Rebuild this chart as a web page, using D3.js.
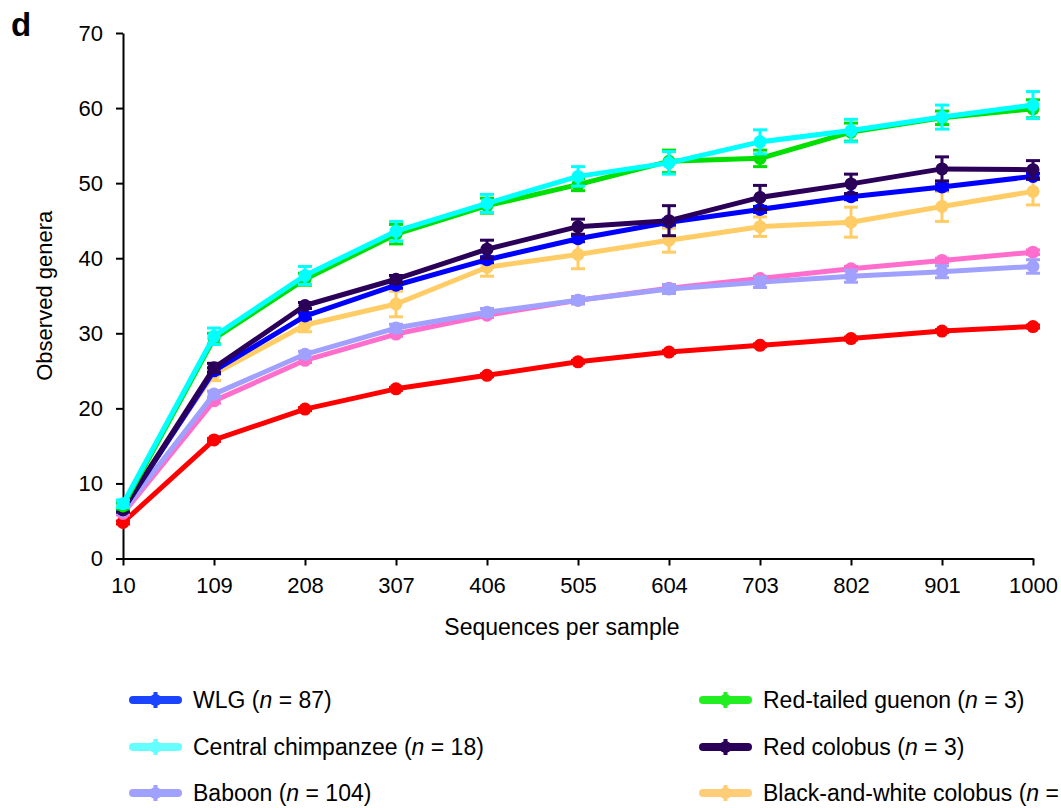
<!DOCTYPE html>
<html lang="en">
<head>
<meta charset="UTF-8">
<title>Rarefaction curves</title>
<script src="https://d3js.org/d3.v7.min.js"></script>
<style>
  body { margin: 0; background: #fff; }
  svg { display: block; font-family: Arial, "Liberation Sans", Helvetica, sans-serif; }
  .axis path, .axis line { stroke: #000; stroke-width: 2px; }
  .axis text { font-size: 22px; fill: #000; }
</style>
</head>
<body>
<svg width="1061" height="808"></svg>
<script>
// sequences per sample (x ticks)
const seqs = [10, 109, 208, 307, 406, 505, 604, 703, 802, 901, 1000];
const yTicks = [0, 10, 20, 30, 40, 50, 60, 70];

// mean observed genera + error per group
const wlg       = [6.5, 25.0, 32.3, 36.4, 39.8, 42.6, 44.8, 46.5, 48.2, 49.5, 50.9];
const wlgErr    = [0.3, 0.4, 0.4, 0.4, 0.4, 0.4, 0.4, 0.4, 0.4, 0.4, 0.4];
const chimp     = [7.3, 29.6, 37.7, 43.6, 47.3, 50.9, 52.7, 55.5, 57.0, 58.8, 60.4];
const chimpErr  = [0.5, 1.1, 1.2, 1.3, 1.2, 1.3, 1.5, 1.6, 1.5, 1.6, 1.8];
const baboon    = [6.3, 21.9, 27.2, 30.7, 32.8, 34.4, 35.9, 36.8, 37.6, 38.2, 38.9];
const baboonErr = [0.3, 0.4, 0.4, 0.5, 0.5, 0.5, 0.6, 0.7, 0.8, 0.8, 0.9];
const guenon    = [7.0, 29.3, 37.2, 43.2, 47.0, 49.8, 52.9, 53.3, 56.8, 58.7, 59.9];
const guenonErr = [0.4, 0.7, 0.8, 1.3, 1.0, 0.8, 1.5, 1.1, 1.2, 0.9, 1.2];
const redCol    = [6.5, 25.4, 33.7, 37.2, 41.2, 44.2, 45.0, 48.1, 49.9, 51.9, 51.8];
const redColErr = [0.3, 0.6, 0.4, 0.5, 1.2, 1.0, 2.0, 1.6, 1.3, 1.6, 1.2];
const bwCol     = [7.0, 24.6, 31.1, 33.9, 38.8, 40.5, 42.4, 44.2, 44.8, 46.9, 48.9];
const bwColErr  = [0.4, 0.9, 0.9, 1.7, 1.2, 1.9, 1.6, 1.3, 2.0, 2.0, 1.8];
const pink      = [6.0, 21.0, 26.4, 29.9, 32.4, 34.4, 36.0, 37.3, 38.6, 39.7, 40.8];
const pinkErr   = [0.2, 0.3, 0.3, 0.3, 0.3, 0.3, 0.3, 0.3, 0.3, 0.3, 0.3];
const red       = [4.8, 15.8, 19.9, 22.6, 24.4, 26.2, 27.5, 28.4, 29.3, 30.3, 30.9];
const redErr    = [0.2, 0.2, 0.2, 0.2, 0.2, 0.2, 0.2, 0.2, 0.2, 0.2, 0.2];

// draw order (bottom first)
const series = [
  { name: "red",   vals: red,    err: redErr,    color: "#ff0000" },
  { name: "pink",  vals: pink,   err: pinkErr,   color: "#ff6ecc" },
  { name: "Baboon", n: "104", vals: baboon, err: baboonErr, color: "#a0a0ff", legend: "#a0a0ff" },
  { name: "Black-and-white colobus", n: "3", vals: bwCol, err: bwColErr, color: "#ffcc66", legend: "#ffcc77" },
  { name: "WLG", n: "87", vals: wlg, err: wlgErr, color: "#0000ff", legend: "#1a44ff" },
  { name: "Red colobus", n: "3", vals: redCol, err: redColErr, color: "#2a0058", legend: "#2a0058" },
  { name: "Red-tailed guenon", n: "3", vals: guenon, err: guenonErr, color: "#00e000", legend: "#22ee22" },
  { name: "Central chimpanzee", n: "18", vals: chimp, err: chimpErr, color: "#00ffff", legend: "#66ffff" }
];

const legendCols = [
  ["WLG", "Central chimpanzee", "Baboon"],
  ["Red-tailed guenon", "Red colobus", "Black-and-white colobus"]
];

const svg = d3.select("svg");

const x = d3.scaleLinear().domain([10, 1000]).range([123, 1033]);
const y = d3.scaleLinear().domain([0, 70]).range([558.5, 33]);

// axes
svg.append("g")
  .attr("class", "axis")
  .attr("transform", "translate(0,558.5)")
  .call(d3.axisBottom(x).tickValues(seqs).tickSize(7).tickSizeOuter(0).tickPadding(12).tickFormat(d3.format("d")));

svg.append("g")
  .attr("class", "axis")
  .attr("transform", "translate(123,0)")
  .call(d3.axisLeft(y).tickValues(yTicks).tickSize(7).tickSizeOuter(0).tickPadding(13));

svg.append("text")
  .attr("x", 562).attr("y", 635)
  .attr("text-anchor", "middle")
  .style("font-size", "23px")
  .text("Sequences per sample");

svg.append("text")
  .attr("transform", "translate(52," + y(35) + ") rotate(-90)")
  .attr("text-anchor", "middle")
  .style("font-size", "22px")
  .text("Observed genera");

svg.append("text")
  .attr("x", 11).attr("y", 36)
  .style("font-size", "33px").style("font-weight", "bold")
  .text("d");

// lines, error bars, dots
const line = d3.line().x((d, i) => x(seqs[i])).y(d => y(d));

series.forEach(s => {
  const g = svg.append("g");
  g.append("path")
    .attr("d", line(s.vals))
    .attr("fill", "none")
    .attr("stroke", s.color)
    .attr("stroke-width", 5)
    .attr("stroke-linejoin", "round");

  const eb = g.selectAll(".eb").data(s.vals).enter().append("g");
  eb.append("line")
    .attr("x1", (d, i) => x(seqs[i])).attr("x2", (d, i) => x(seqs[i]))
    .attr("y1", (d, i) => y(d - s.err[i])).attr("y2", (d, i) => y(d + s.err[i]));
  eb.append("line")
    .attr("x1", (d, i) => x(seqs[i]) - 7).attr("x2", (d, i) => x(seqs[i]) + 7)
    .attr("y1", (d, i) => y(d + s.err[i])).attr("y2", (d, i) => y(d + s.err[i]));
  eb.append("line")
    .attr("x1", (d, i) => x(seqs[i]) - 7).attr("x2", (d, i) => x(seqs[i]) + 7)
    .attr("y1", (d, i) => y(d - s.err[i])).attr("y2", (d, i) => y(d - s.err[i]));
  eb.selectAll("line").attr("stroke", s.color).attr("stroke-width", 3);

  g.selectAll("circle").data(s.vals).enter().append("circle")
    .attr("cx", (d, i) => x(seqs[i]))
    .attr("cy", d => y(d))
    .attr("r", 6.5)
    .attr("fill", s.color);
});

// legend
const colX = [133, 703];
const rowY = [700, 747, 793];
legendCols.forEach((col, ci) => {
  col.forEach((nm, ri) => {
    const s = series.find(d => d.name === nm);
    const g = svg.append("g").attr("transform", `translate(${colX[ci]},${rowY[ri]})`);
    g.append("line")
      .attr("x1", 0).attr("x2", 45).attr("y1", 0).attr("y2", 0)
      .attr("stroke", s.legend).attr("stroke-width", 8).attr("stroke-linecap", "round");
    g.append("line")
      .attr("x1", 22.5).attr("x2", 22.5).attr("y1", -8).attr("y2", 8)
      .attr("stroke", s.legend).attr("stroke-width", 4);
    g.append("circle").attr("cx", 22.5).attr("cy", 0).attr("r", 6).attr("fill", s.legend);
    const t = g.append("text")
      .attr("x", 60).attr("y", 8)
      .style("font-size", "23px");
    t.append("tspan").text(s.name + " (");
    t.append("tspan").style("font-style", "italic").text("n");
    t.append("tspan").text(" = " + s.n + ")");
  });
});
</script>
</body>
</html>
